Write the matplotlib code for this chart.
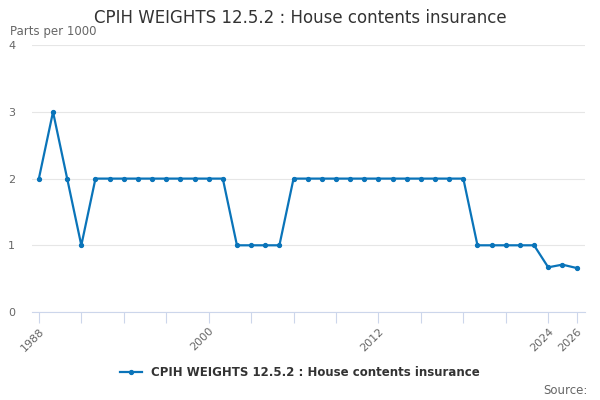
import matplotlib.pyplot as plt

years = list(range(1988, 2027))
values = [2, 3, 2, 1, 2, 2, 2, 2, 2, 2, 2, 2, 2, 2,
          1, 1, 1, 1,
          2, 2, 2, 2, 2, 2, 2, 2, 2, 2, 2, 2, 2,
          1, 1, 1, 1, 1,
          0.67, 0.71, 0.66]
tick_years = list(range(1988, 2027, 3)) + [2026]
label_years = [1988, 2000, 2012, 2024, 2026]

fig = plt.figure(figsize=(6, 4), dpi=100)
ax = fig.add_axes([0.053, 0.22, 0.922, 0.667])

col = '#0a74b9'
ax.plot(years, values, color=col, lw=1.6, marker='o', ms=2.8, label="CPIH WEIGHTS 12.5.2 : House contents insurance")

ax.set_xlim(1987.5, 2026.6)
ax.set_ylim(0, 4)
ax.set_yticks([0, 1, 2, 3, 4])
ax.set_xticks(tick_years)
ax.set_xticklabels([str(y) if y in label_years else '' for y in tick_years],
                   rotation=45, ha='right', rotation_mode='anchor')
ax.tick_params(axis='x', length=8, color='#ccd6eb', labelsize=8, labelcolor='#666666', pad=2)
ax.tick_params(axis='y', length=0, labelsize=8, labelcolor='#666666', pad=12)
ax.grid(axis='y', color='#e6e6e6', lw=0.8)
ax.set_axisbelow(True)
for s in ['top', 'right', 'left']:
    ax.spines[s].set_visible(False)
ax.spines['bottom'].set_color('#ccd6eb')

fig.text(0.5, 0.955, "CPIH WEIGHTS 12.5.2 : House contents insurance", ha='center', va='center',
         fontsize=12, color='#333333')
fig.text(0.017, 0.922, "Parts per 1000", ha='left', va='center', fontsize=8.5, color='#666666')
fig.text(0.98, 0.025, "Source:", ha='right', va='center', fontsize=8.5, color='#666666')

leg = fig.legend(loc='center', bbox_to_anchor=(0.5, 0.068), frameon=False, handlelength=1.8,
                 prop={'weight': 'bold', 'size': 8.5})
for t in leg.get_texts():
    t.set_color('#333333')

fig.savefig('out.png', dpi=100)
